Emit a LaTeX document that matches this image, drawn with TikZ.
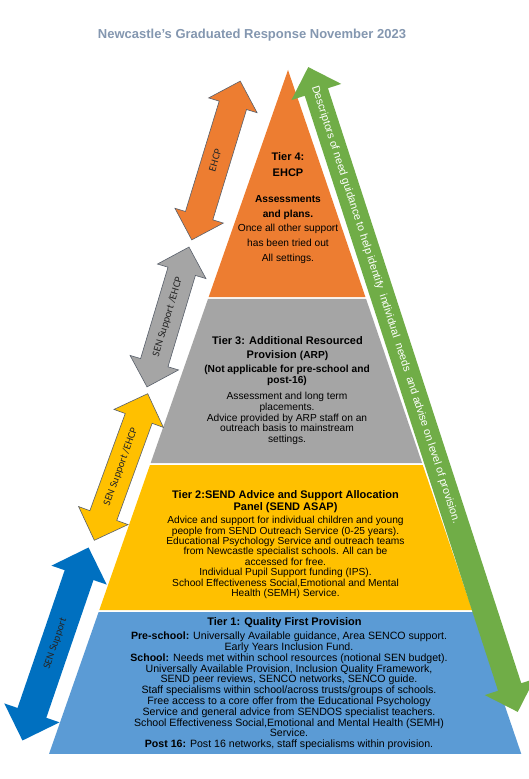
\documentclass[tikz,border=0pt]{standalone}
\usepackage{fontspec}
\setmainfont{Liberation Sans}
\newfontfamily\calfont{Carlito}
\usetikzlibrary{positioning,calc,shapes.arrows}
\definecolor{tierfour}{HTML}{ED7D31}
\definecolor{tierthree}{HTML}{A5A5A5}
\definecolor{tiertwo}{HTML}{FFC000}
\definecolor{tierone}{HTML}{5B9BD5}
\definecolor{senblue}{HTML}{0070C0}
\definecolor{descgreen}{HTML}{70AD47}
\definecolor{headgrey}{HTML}{8497B0}
\definecolor{arrline}{HTML}{59606B}

\begin{document}
\begin{tikzpicture}[x=1pt,y=1pt,
  ttl/.style={font=\fontsize{11}{14}\selectfont\bfseries,align=center,inner sep=0pt},
  sub/.style={font=\fontsize{10.2}{11.5}\selectfont\bfseries,align=center,inner sep=0pt},
  body/.style={font=\fontsize{10.2}{10.8}\selectfont,align=center,inner sep=0pt},
  dblarr/.style={double arrow,double arrow head extend=11pt,minimum width=50pt,
     inner xsep=0pt,inner ysep=9.5pt,text height=7pt,text depth=2pt,
     font=\calfont\fontsize{10.5}{12}\selectfont,text=black!85},
  outl/.style={draw=arrline,line width=0.6pt}]
  \useasboundingbox[fill=white] (0,0) rectangle (528,779);
  % ---- title ----
  \node[font=\fontsize{13}{15}\selectfont\bfseries,text=headgrey] (title)
     at (252,744) {Newcastle’s Graduated Response November 2023};
  % ---- pyramid ----
  \coordinate (apex) at (288,709);
  \coordinate (bl) at (49,25);
  \coordinate (br) at (521.3,25);
  \fill[tierfour] (apex) -- ($(apex)!0.3319!(br)$) -- ($(apex)!0.3319!(bl)$) -- cycle;
  \fill[tierthree] ($(apex)!0.3348!(bl)$) -- ($(apex)!0.3348!(br)$)
     -- ($(apex)!0.5746!(br)$) -- ($(apex)!0.5746!(bl)$) -- cycle;
  \fill[tiertwo] ($(apex)!0.5775!(bl)$) -- ($(apex)!0.5775!(br)$)
     -- ($(apex)!0.7895!(br)$) -- ($(apex)!0.7895!(bl)$) -- cycle;
  \fill[tierone] ($(apex)!0.7924!(bl)$) -- ($(apex)!0.7924!(br)$)
     -- (br) -- (bl) -- cycle;
  % ---- tier 4 ----
  \node[ttl,font=\fontsize{11}{16}\selectfont\bfseries] (t4ttl) at (288,614) {Tier 4:\\EHCP};
  \node[body,font=\fontsize{10.2}{14.7}\selectfont] (t4body) at (288,549.5)
     {\textbf{Assessments}\\\textbf{and plans.}\\Once all other support\\
      has been tried out\\All settings.};
  % ---- tier 3 ----
  \node[ttl] (t3ttl) at (287.5,430)
     {Tier 3: Additional Resourced\\Provision {\fontsize{10.2}{14}\selectfont(ARP)}};
  \node[sub] (t3sub) at (287,403.5) {(Not applicable for pre-school and\\post-16)};
  \node[body] (t3body) at (287,360.5)
     {Assessment and long term\\placements.\\Advice provided by ARP staff on an\\
      outreach basis to mainstream\\settings.};
  % ---- tier 2 ----
  \node[ttl,font=\fontsize{11}{12}\selectfont\bfseries] (t2ttl) at (285.5,277)
     {Tier 2:SEND Advice and Support Allocation\\Panel (SEND ASAP)};
  \node[body,font=\fontsize{10.2}{10.4}\selectfont] (t2body) at (285.5,221.5)
     {Advice and support for individual children and young\\
      people from SEND Outreach Service (0-25 years).\\
      Educational Psychology Service and outreach teams\\
      from Newcastle specialist schools. All can be\\
      accessed for free.\\
      Individual Pupil Support funding (IPS).\\
      School Effectiveness Social,Emotional and Mental\\
      Health (SEMH) Service.};
  % ---- tier 1 ----
  \node[ttl] (t1ttl) at (284.5,156) {Tier 1: Quality First Provision};
  \node[body,font=\fontsize{10.6}{10.8}\selectfont] (t1body) at (289,88)
     {\textbf{Pre-school:} Universally Available guidance, Area SENCO support.\\
      Early Years Inclusion Fund.\\
      \textbf{School:} Needs met within school resources (notional SEN budget).\\
      Universally Available Provision, Inclusion Quality Framework,\\
      SEND peer reviews, SENCO networks, SENCO guide.\\
      Staff specialisms within school/across trusts/groups of schools.\\
      Free access to a core offer from the Educational Psychology\\
      Service and general advice from SENDOS specialist teachers.\\
      School Effectiveness Social,Emotional and Mental Health (SEMH)\\
      Service.\\
      \textbf{Post 16:} Post 16 networks, staff specialisms within provision.};
  % ---- left arrows ----
  \node[dblarr,outl,fill=tierfour,rotate=73,minimum height=166pt] (ehcparr)
     at (216,618.5) {EHCP};
  \node[dblarr,outl,fill=tierthree,rotate=73.3,minimum height=146pt] (senehcp)
     at (168,462) {SEN Support /EHCP};
  \node[dblarr,outl,fill=tiertwo,rotate=70,minimum height=156pt,minimum width=52pt,
        double arrow head extend=12pt] (senehcpb) at (121,312) {SEN Support /EHCP};
  \node[dblarr,fill=senblue,rotate=71.1,minimum height=204pt,minimum width=58pt,
        inner ysep=10.5pt,double arrow head extend=14pt] (senarr) at (55.5,135) {SEN Support};
  % ---- descriptors arrow ----
  \coordinate (desctop) at (308,712);
  \coordinate (descbot) at (518,67);
  \node[dblarr,fill=descgreen,rotate=-72,minimum height=678pt,minimum width=52pt,
        inner ysep=7.5pt,double arrow head extend=14pt] (descarr)
     at ($(desctop)!0.5!(descbot)$) {};
  \node[font=\fontsize{10.8}{12}\selectfont,text=white,rotate=-72,inner sep=0pt]
     (desclbl) at ($(desctop)!0.369!(descbot)$)
     {Descriptors of need guidance to help identify\ \ individual\ \ needs\ \ and advise on level of provision.};
\end{tikzpicture}
\end{document}
